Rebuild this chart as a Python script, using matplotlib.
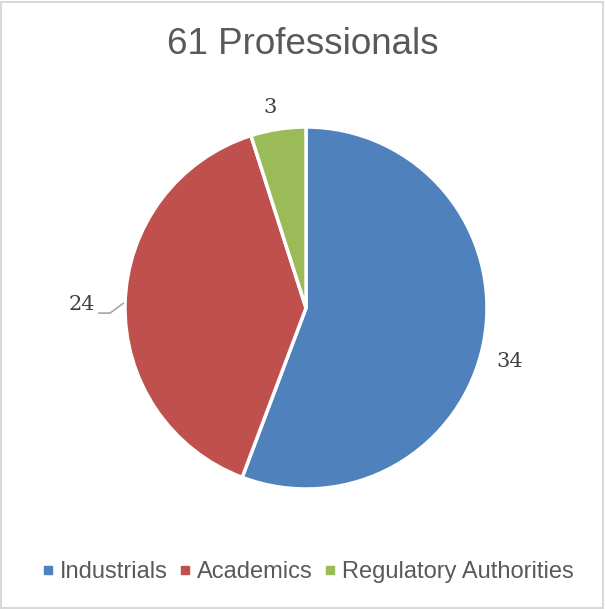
import matplotlib
matplotlib.use("Agg")
import matplotlib.pyplot as plt
from matplotlib.lines import Line2D
from matplotlib.patches import Rectangle
import numpy as np

title = "61 Professionals"
categories = ["Industrials", "Academics", "Regulatory Authorities"]
values = [34, 24, 3]
colors = ["#4F81BD", "#C0504D", "#9BBB59"]

W, H = 605, 609
fig = plt.figure(figsize=(W / 100, H / 100), dpi=100)
fig.patch.set_facecolor("white")
fig.patches.append(Rectangle((0.002, 0.002), 0.995, 0.995, transform=fig.transFigure,
                             fill=False, edgecolor="#D9D9D9", linewidth=1.5))

cx, cy, r = 306, 308, 181
ax = fig.add_axes([(cx - r) / W, (H - cy - r) / H, 2 * r / W, 2 * r / H])
wedges, _ = ax.pie(values, colors=colors, startangle=90, counterclock=False,
                   wedgeprops=dict(edgecolor="white", linewidth=2.5))
ax.set_xlim(-1, 1)
ax.set_ylim(-1, 1)
ax.set_aspect("equal")

# label placement: radial distance and angular offset (deg) from wedge middle
dists = [1.164, 1.238, 1.123]
offs = [-4.3, 0.7, 1.35]
for w, v, d, o in zip(wedges, values, dists, offs):
    mid = np.deg2rad((w.theta1 + w.theta2) / 2)
    ang = mid + np.deg2rad(o)
    x, y = d * np.cos(ang), d * np.sin(ang)
    ax.text(x, y, str(v), ha="center", va="center", fontsize=15,
            family="DejaVu Serif", color="#404040", clip_on=False)
    if v == 24:
        ex, ey = 1.01 * np.cos(mid), 1.01 * np.sin(mid)
        ax.plot([x + 0.094, x + 0.155, ex], [y - 0.045, y - 0.045, ey],
                color="#A6A6A6", linewidth=1.2, clip_on=False)

fig.text(0.5, 1 - 44 / H, title, ha="center", va="center", fontsize=26.5,
         family="Liberation Sans", color="#595959")

handles = [Line2D([], [], marker="s", linestyle="none", markersize=5.3,
                  markerfacecolor=c, markeredgecolor=c) for c in colors]
fig.legend(handles, categories, loc="center", bbox_to_anchor=(309 / W, 1 - 572 / H),
           ncol=3, frameon=False, handlelength=0.3, handletextpad=0.35,
           columnspacing=0.6, borderpad=0, borderaxespad=0,
           prop=dict(family="Liberation Sans", size=17),
           labelcolor="#595959")

fig.savefig("out.png", dpi=100, facecolor="white")
